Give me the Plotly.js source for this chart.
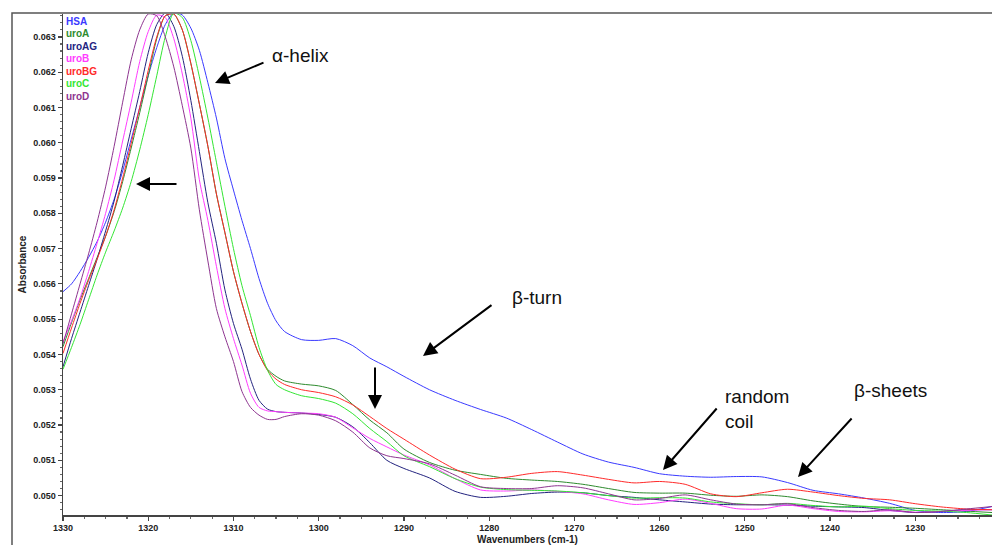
<!DOCTYPE html>
<html><head><meta charset="utf-8">
<script src="https://cdn.plot.ly/plotly-3.0.1.min.js"></script>
<style>html,body{margin:0;padding:0;background:#fff}#chart{width:992px;height:545px}</style>
</head><body><div id="chart"></div>
<script>
const wavenumbers = [1330,1329,1328,1327,1326,1325,1324,1323,1322,1321,1320,1319,1318,1317,1316,1315,1314,1313,1312,1311,1310,1309,1308,1307,1306,1305,1304,1302,1300,1298,1296,1294,1292,1290,1287,1284,1281,1278,1275,1272,1269,1266,1263,1260,1257,1254,1251,1248,1245,1242,1239,1236,1233,1230,1227,1224,1221];

const HSA = [0.05578,0.05600,0.05635,0.05675,0.05720,0.05775,0.05840,0.05920,0.06010,0.06100,0.06190,0.06270,0.06335,0.06368,0.06362,0.06325,0.06262,0.06170,0.06070,0.05955,0.05866,0.05780,0.05700,0.05615,0.05545,0.05495,0.05465,0.05442,0.05440,0.05445,0.05425,0.05390,0.05365,0.05338,0.05300,0.05270,0.05244,0.05220,0.05187,0.05152,0.05118,0.05095,0.05080,0.05062,0.05055,0.05052,0.05054,0.05053,0.05037,0.05015,0.05005,0.04993,0.04978,0.04958,0.04952,0.04955,0.04969];

const uroA = [0.05422,0.05490,0.05555,0.05615,0.05675,0.05735,0.05805,0.05890,0.05985,0.06085,0.06190,0.06295,0.06360,0.06365,0.06320,0.06225,0.06110,0.05990,0.05855,0.05745,0.05635,0.05545,0.05465,0.05400,0.05358,0.05338,0.05325,0.05316,0.05311,0.05298,0.05258,0.05214,0.05178,0.05132,0.05094,0.05072,0.05060,0.05049,0.05044,0.05040,0.05032,0.05020,0.05009,0.05007,0.05007,0.05001,0.04998,0.05002,0.04997,0.04985,0.04976,0.04969,0.04967,0.04964,0.04960,0.04956,0.04952];

const uroAG = [0.05365,0.05445,0.05520,0.05595,0.05670,0.05750,0.05835,0.05935,0.06040,0.06145,0.06255,0.06335,0.06368,0.06330,0.06245,0.06120,0.05975,0.05830,0.05715,0.05583,0.05488,0.05415,0.05330,0.05270,0.05245,0.05238,0.05236,0.05234,0.05230,0.05222,0.05195,0.05150,0.05100,0.05077,0.05050,0.05012,0.04995,0.04998,0.05006,0.05010,0.05008,0.05000,0.04995,0.04988,0.04982,0.04976,0.04974,0.04974,0.04973,0.04970,0.04968,0.04966,0.04958,0.04952,0.04955,0.04960,0.04960];

const uroB = [0.05436,0.05495,0.05560,0.05635,0.05715,0.05800,0.05895,0.06005,0.06115,0.06230,0.06315,0.06362,0.06355,0.06295,0.06195,0.06070,0.05895,0.05780,0.05650,0.05530,0.05445,0.05370,0.05290,0.05250,0.05240,0.05238,0.05236,0.05234,0.05232,0.05222,0.05192,0.05162,0.05138,0.05115,0.05087,0.05048,0.05016,0.05013,0.05016,0.05012,0.05005,0.04988,0.04975,0.04980,0.04990,0.04978,0.04963,0.04962,0.04973,0.04963,0.04955,0.04954,0.04957,0.04953,0.04955,0.04958,0.04960];

const uroBG = [0.05403,0.05475,0.05545,0.05610,0.05670,0.05735,0.05810,0.05900,0.05998,0.06100,0.06205,0.06300,0.06360,0.06365,0.06320,0.06225,0.06110,0.05990,0.05855,0.05745,0.05635,0.05545,0.05465,0.05400,0.05355,0.05330,0.05315,0.05300,0.05292,0.05280,0.05257,0.05224,0.05190,0.05160,0.05115,0.05075,0.05048,0.05052,0.05063,0.05068,0.05058,0.05046,0.05036,0.05040,0.05032,0.05005,0.04997,0.05008,0.05018,0.05010,0.05000,0.04992,0.04988,0.04977,0.04968,0.04962,0.04960];

const uroC = [0.05358,0.05420,0.05485,0.05555,0.05625,0.05690,0.05750,0.05815,0.05890,0.05980,0.06080,0.06190,0.06300,0.06368,0.06355,0.06290,0.06187,0.06070,0.05945,0.05820,0.05700,0.05595,0.05510,0.05420,0.05355,0.05315,0.05300,0.05283,0.05275,0.05262,0.05232,0.05190,0.05153,0.05113,0.05082,0.05048,0.05024,0.05017,0.05015,0.05013,0.05008,0.05000,0.04993,0.04994,0.04993,0.04982,0.04977,0.04974,0.04978,0.04972,0.04968,0.04970,0.04963,0.04958,0.04956,0.04952,0.04945];

const uroD = [0.05430,0.05515,0.05600,0.05685,0.05775,0.05875,0.05990,0.06115,0.06235,0.06320,0.06365,0.06360,0.06300,0.06215,0.06105,0.05985,0.05810,0.05665,0.05530,0.05450,0.05380,0.05295,0.05250,0.05228,0.05216,0.05216,0.05224,0.05232,0.05228,0.05212,0.05180,0.05135,0.05113,0.05105,0.05090,0.05058,0.05025,0.05020,0.05020,0.05028,0.05022,0.05005,0.04988,0.04992,0.05002,0.04988,0.04976,0.04974,0.04977,0.04966,0.04958,0.04955,0.04960,0.04952,0.04955,0.04962,0.04969];

const seriesNames = ['HSA','uroA','uroAG','uroB','uroBG','uroC','uroD'];
const seriesValues = [HSA, uroA, uroAG, uroB, uroBG, uroC, uroD];

const labelTexts = ['α-helix','β-turn','random<br>coil','β-sheets'];
const axisTitles = {x: 'Wavenumbers (cm-1)', y: 'Absorbance'};

// styles
const lineColors = ['#3a3aff','#2e8b2e','#23237f','#ff3cff','#ff2a2a','#33e633','#8e3590'];

const W = 992, H = 545, L = 63, R = 0, T = 14, B = 30;
const pw = W - L - R, ph = H - T - B;
const px = X => (X - L) / pw;
const py = Y => (H - B - Y) / ph;

const traces = seriesNames.map((n, i) => ({
  type: 'scatter', mode: 'lines', name: n,
  x: wavenumbers, y: seriesValues[i],
  line: {color: lineColors[i], width: 1, shape: 'spline', smoothing: 0.7},
  showlegend: false, hoverinfo: 'skip'
}));

const bold = {family: 'Liberation Sans, Arial, sans-serif', weight: 'bold', color: '#222'};
const annotations = [];
seriesNames.forEach((n, i) => {
  annotations.push({xref: 'paper', yref: 'paper', x: px(64), y: py(21 + i * 12.5),
    xanchor: 'left', yanchor: 'middle', showarrow: false, text: n,
    font: {family: 'Liberation Sans, Arial, sans-serif', weight: 'bold', size: 10, color: lineColors[i]}});
});
const txtFont = {family: 'Liberation Sans, Arial, sans-serif', size: 19, color: '#111'};
const textPos = [[270, 55, 'left'], [510, 297, 'left'], [723, 409, 'left'], [852, 390, 'left']];
labelTexts.forEach((t, i) => {
  annotations.push({xref: 'paper', yref: 'paper', x: px(textPos[i][0]), y: py(textPos[i][1]),
    xanchor: textPos[i][2], yanchor: 'middle', align: 'left', showarrow: false, text: t, font: txtFont});
});
const arrows = [[215, 83, 50, -21], [136, 184, 42, 0], [423, 356, 70, -52], [375, 409, 0, -43], [663, 470, 55, -63], [798, 477, 55, -60]];
arrows.forEach(a => {
  annotations.push({xref: 'paper', yref: 'paper', x: px(a[0]), y: py(a[1]), ax: a[2], ay: a[3],
    text: '', showarrow: true, arrowhead: 2, arrowsize: 1.4, arrowwidth: 2, arrowcolor: '#000', standoff: 0});
});

const layout = {
  width: W, height: H,
  margin: {l: L, r: R, t: T, b: B},
  paper_bgcolor: '#fff', plot_bgcolor: '#fff',
  showlegend: false,
  xaxis: {
    range: [1330, 1221], autorange: false, showgrid: false, zeroline: false,
    showline: true, linecolor: '#444', linewidth: 1.5,
    ticks: 'outside', ticklen: 4, tickcolor: '#444', tickwidth: 1.2,
    dtick: 10, tick0: 1230,
    minor: {dtick: 2.5, ticks: 'outside', ticklen: 2, tickcolor: '#666', showgrid: false},
    tickfont: Object.assign({size: 9}, bold),
    title: {text: axisTitles.x, font: Object.assign({size: 10}, bold), standoff: 3}
  },
  yaxis: {
    range: [0.04945, 0.06365], autorange: false, showgrid: false, zeroline: false,
    showline: true, linecolor: '#444', linewidth: 1.5,
    ticks: 'outside', ticklen: 4, tickcolor: '#444', tickwidth: 1.2,
    dtick: 0.001, tick0: 0.05, tickformat: '.3f',
    minor: {dtick: 0.0002, ticks: 'outside', ticklen: 2, tickcolor: '#666', showgrid: false},
    tickfont: Object.assign({size: 9}, bold),
    title: {text: axisTitles.y, font: Object.assign({size: 10}, bold), standoff: 4}
  },
  shapes: [{type: 'rect', xref: 'paper', yref: 'paper', x0: px(12), x1: px(1000), y0: py(560), y1: py(13),
    line: {color: '#555', width: 1.5}, fillcolor: 'rgba(0,0,0,0)', layer: 'below'}],
  annotations: annotations
};

Plotly.newPlot('chart', traces, layout, {staticPlot: true, displayModeBar: false});
</script>
</body></html>
